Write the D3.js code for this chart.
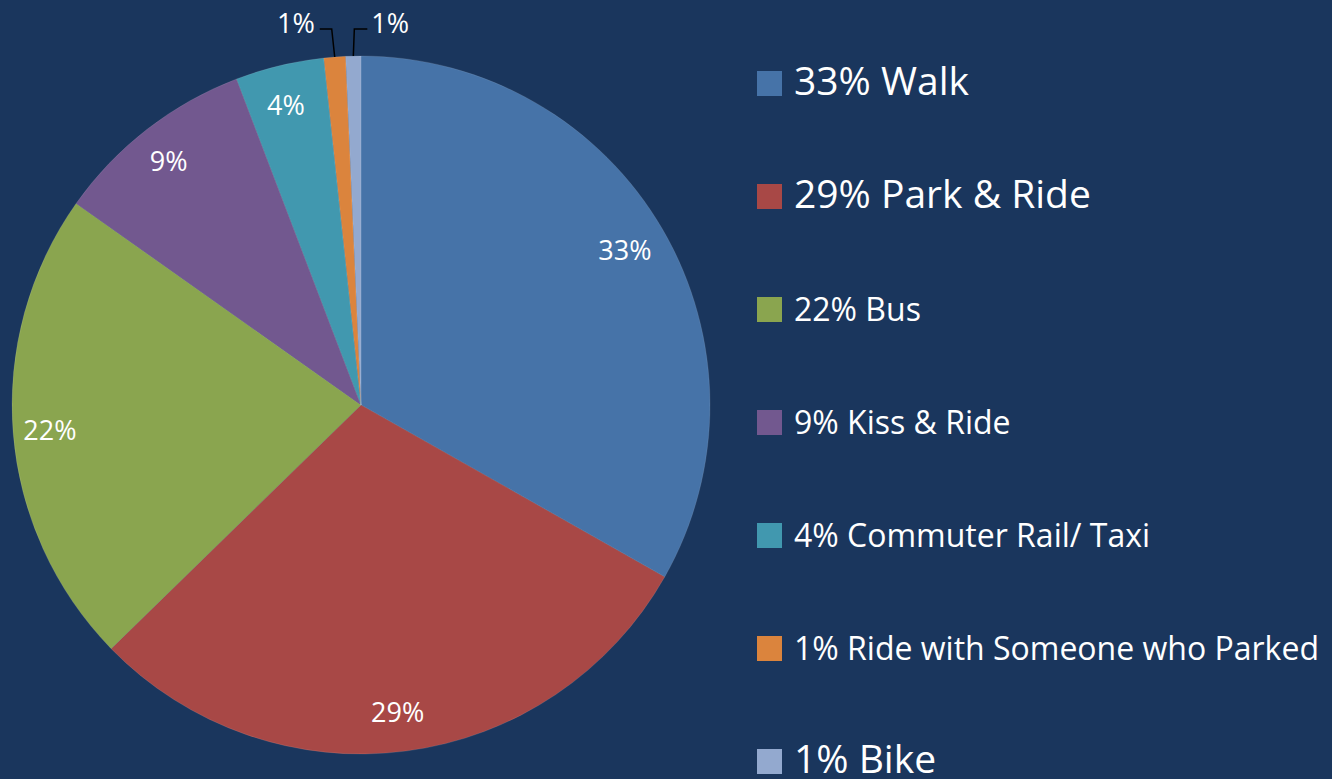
<!DOCTYPE html>
<html><head><meta charset="utf-8">
<script src="https://cdn.jsdelivr.net/npm/d3@7"></script>
<style>
html,body{margin:0;padding:0;background:#1a365d;overflow:hidden;}
svg{display:block;}
text{font-family:"Open Sans",sans-serif;fill:#fff;}
</style></head>
<body>
<svg id="chart" width="1332" height="779"></svg>
<script>
const categories = ["Walk","Park & Ride","Bus","Kiss & Ride","Commuter Rail/ Taxi","Ride with Someone who Parked","Bike"];
const values = [33.2, 29.5, 22.1, 9.4, 4.1, 1.0, 0.7];
const labels = ["33%","29%","22%","9%","4%","1%","1%"];
const colors = ["#4673a8","#a84846","#8aa54f","#72588f","#4198af","#db843d","#93a9cf"];
const legendBig = [true, true, false, false, false, false, true];

const W = 1332, H = 779;
const cx = 361, cy = 405, R = 349;
const svg = d3.select("#chart");
svg.append("rect").attr("width", W).attr("height", H).attr("fill", "#1a365d");

const data = categories.map((c, i) => ({cat: c, value: values[i], label: labels[i], color: colors[i], i}));
const pie = d3.pie().value(d => d.value).sort(null);
const arcs = pie(data);
const arc = d3.arc().innerRadius(0).outerRadius(R);
const labelArc = d3.arc().innerRadius(309).outerRadius(309);

const g = svg.append("g").attr("transform", `translate(${cx},${cy})`);
g.selectAll("path.slice").data(arcs).enter().append("path")
  .attr("class", "slice")
  .attr("d", arc)
  .attr("fill", d => d.data.color)
  .attr("stroke", "rgba(255,255,255,0.18)")
  .attr("stroke-width", 0.6);

// inside labels
g.selectAll("text.in").data(arcs.filter(d => d.data.value >= 3)).enter().append("text")
  .attr("class", "in")
  .attr("x", d => labelArc.centroid(d)[0] - 3)
  .attr("y", d => labelArc.centroid(d)[1])
  .attr("text-anchor", "middle")
  .attr("dominant-baseline", "central")
  .style("font-size", "27px")
  .text(d => d.data.label);

// outside labels with leader lines for small slices
const small = arcs.filter(d => d.data.value < 3);
const labelY = -376;
small.forEach((d, k) => {
  const mid = (d.startAngle + d.endAngle) / 2;
  const px = Math.sin(mid) * R, py = -Math.cos(mid) * R;
  const ex = k === 0 ? px - 3 : px + 1;
  const hx = k === 0 ? ex - 12 : ex + 13;
  g.append("path")
    .attr("d", `M${px},${py} L${ex},${labelY} L${hx},${labelY}`)
    .attr("fill", "none").attr("stroke", "#000").attr("stroke-width", 1.5);
  g.append("text")
    .attr("x", k === 0 ? hx - 5 : hx + 4)
    .attr("y", labelY - 7)
    .attr("text-anchor", k === 0 ? "end" : "start")
    .attr("dominant-baseline", "central")
    .style("font-size", "27px")
    .text(d.data.label);
});

// legend
const lg = svg.append("g");
data.forEach((d, i) => {
  const base = 95 + i * 113;
  lg.append("rect")
    .attr("x", 757).attr("y", base - 24)
    .attr("width", 25).attr("height", 25)
    .attr("fill", d.color);
  lg.append("text")
    .attr("x", 794).attr("y", base)
    .style("font-size", legendBig[i] ? "39px" : "32px")
    .text(d.label + " " + d.cat);
});
</script>
</body></html>
